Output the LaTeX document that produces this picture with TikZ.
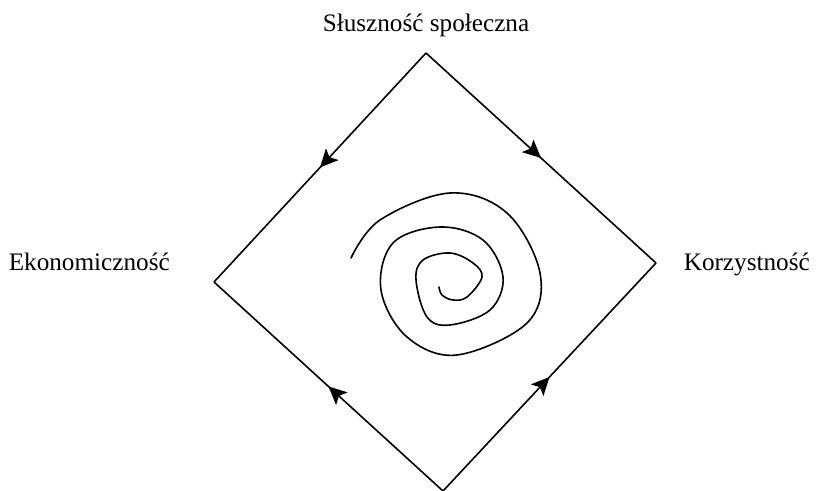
\documentclass[tikz,border=0pt]{standalone}
\usepackage{fontspec}
\setmainfont{Liberation Serif}
\usetikzlibrary{arrows.meta,decorations.markings}
\tikzset{
	midarrow/.style={postaction={decorate},decoration={markings,
		mark=at position 0.5 with {\arrow{Stealth[length=9pt,width=8.5pt,inset=2pt]}}}},
	corner/.style={font=\fontsize{12.6}{15}\selectfont, inner sep=0pt},
}
\begin{document}
\begin{tikzpicture}[x=0.5pt,y=-0.5pt,line width=0.8pt]
		\useasboundingbox (0,0) rectangle (819,491);
		% corners of the diamond
		\coordinate (top) at (426,53);
		\coordinate (left) at (214,282);
		\coordinate (right) at (656,263);
		\coordinate (bottom) at (443,491);
		
		\node[corner, anchor=base] (slusznosc) at (426,32) {Słuszność społeczna};
		\node[corner, anchor=base west] (ekonom) at (8,271) {Ekonomiczność};
		\node[corner, anchor=base west] (korzyst) at (683,271) {Korzystność};
		
		\draw[midarrow] (top) -- (left);
		\draw[midarrow] (top) -- (right);
		\draw[midarrow] (bottom) -- (left);
		\draw[midarrow] (bottom) -- (right);
		
		% spiral in the middle
		\draw[line cap=round] plot[smooth, tension=0.6] coordinates {
			(351,258) (380,220) (450,193) (507,213) (540,273) (527,323)
			(457,355) (407,337) (381,290) (393,243) (440,227) (483,240)
			(503,277) (490,310) (450,325) (427,317) (416,280) (423,260)
			(450,253) (473,263) (482,277) (467,297) (453,300) (442,295) (439,287)};
	\end{tikzpicture}
\end{document}
